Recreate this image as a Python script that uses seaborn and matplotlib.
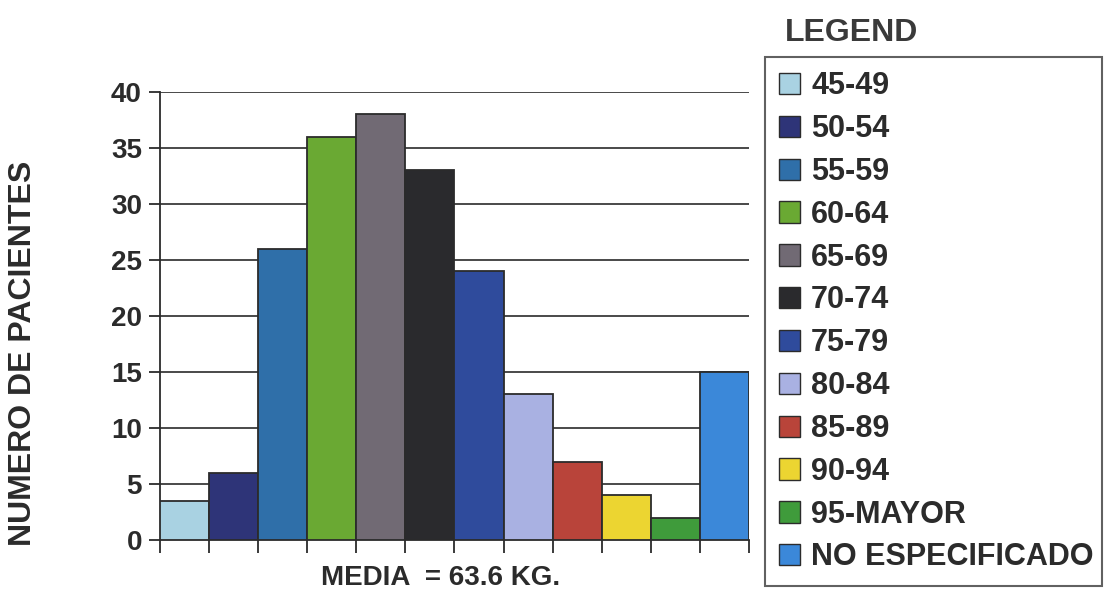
import matplotlib
matplotlib.use("Agg")
import matplotlib.pyplot as plt
import seaborn as sns
import pandas as pd
import numpy as np
from matplotlib.patches import Patch

categories = ["45-49", "50-54", "55-59", "60-64", "65-69", "70-74",
              "75-79", "80-84", "85-89", "90-94", "95-MAYOR", "NO ESPECIFICADO"]
pacientes = [3.5, 6, 26, 36, 38, 33, 24, 13, 7, 4, 2, 15]
colors = ["#a9d2e2", "#2e3478", "#2f6fa9", "#6aa933", "#716a74", "#2a2a2d",
          "#2f4b9c", "#a9b1e2", "#b9443a", "#ecd531", "#3f9b3b", "#3b88d9"]
yticks = [0, 5, 10, 15, 20, 25, 30, 35, 40]

sns.set_style("white")
plt.rcParams["font.family"] = ["Liberation Sans", "DejaVu Sans"]
plt.rcParams["font.weight"] = "bold"
txt = "#2b2b2b"

df = pd.DataFrame({"rango": categories, "n": pacientes})

fig = plt.figure(figsize=(11.09, 6.09), dpi=100)
ax = fig.add_axes([0.1443, 0.1133, 0.531, 0.7356])

sns.barplot(data=df, x="rango", y="n", hue="rango", palette=colors,
            width=1.0, edgecolor="#2b2b2b", linewidth=1.3, saturation=1,
            legend=False, ax=ax, zorder=3)

ax.set_ylim(0, 40)
ax.set_xlim(-0.5, len(categories) - 0.5)
ax.set_yticks(yticks)
ax.set_yticklabels([str(t) for t in yticks], fontsize=20, fontweight="bold", color=txt)
ax.set_xticks(np.arange(len(categories) + 1) - 0.5)
ax.set_xticklabels([])
ax.tick_params(axis="y", length=8, width=1.3, color=txt, direction="out", pad=5, left=True)
ax.tick_params(axis="x", length=9, width=1.3, color=txt, direction="out", bottom=True)
for t in yticks[1:]:
    ax.axhline(t, color="#3a3a3a", lw=1.3, zorder=1)

for side in ["top", "right"]:
    ax.spines[side].set_visible(False)
for side in ["left", "bottom"]:
    ax.spines[side].set_color(txt)
    ax.spines[side].set_linewidth(1.3)

ax.set_ylabel("NUMERO DE PACIENTES", fontsize=23, fontweight="bold", color=txt)
ax.yaxis.set_label_coords(-0.207, 0.417)
ax.set_xlabel("MEDIA  = 63.6 KG.", fontsize=20, fontweight="bold", color=txt)
ax.xaxis.set_label_coords(0.477, -0.056)

handles = [Patch(facecolor=c, edgecolor="#2b2b2b", linewidth=1) for c in colors]
leg = fig.legend(handles, categories, loc="upper left",
                 bbox_to_anchor=(0.69, 0.0476, 0.304, 0.858), mode="expand",
                 frameon=True, fancybox=False, edgecolor="#3a3a3a",
                 prop={"size": 22, "weight": "bold"}, labelcolor=txt,
                 handlelength=0.7, handleheight=0.7, handletextpad=0.35,
                 labelspacing=0.42, borderpad=0.45, borderaxespad=0)
leg.get_frame().set_linewidth(1.5)
fig.text(0.708, 0.945, "LEGEND", fontsize=23, fontweight="bold", color="#3a3a3a",
         ha="left", va="center")

fig.savefig("out.png", dpi=100, facecolor="white")
